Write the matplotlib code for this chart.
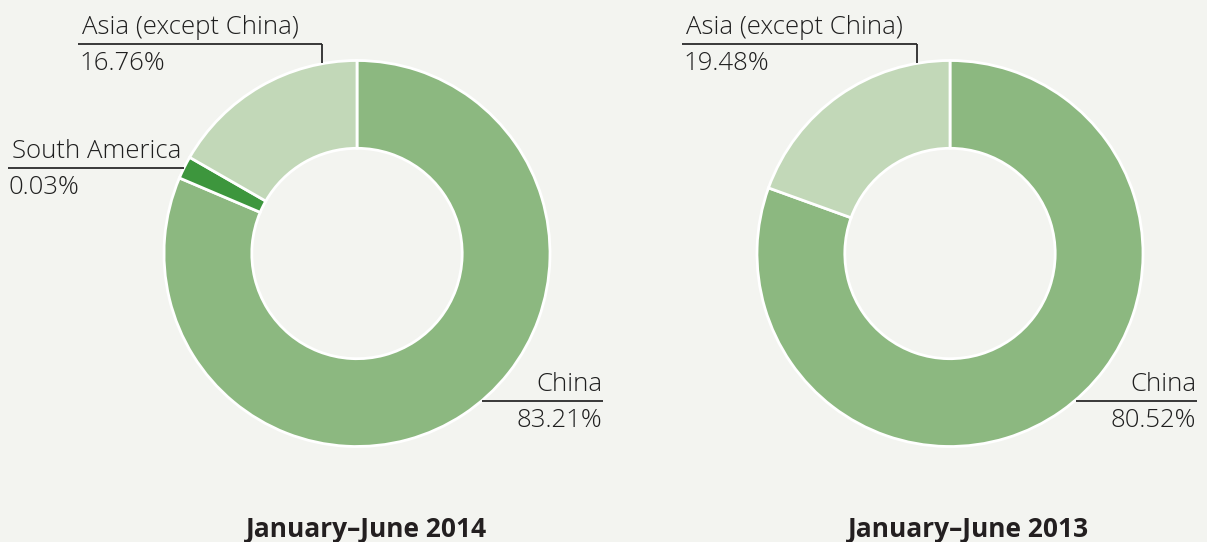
import matplotlib.pyplot as plt

# ---- data ----
regions_2014 = ["China", "South America", "Asia (except China)"]
shares_2014 = [83.21, 0.03, 16.76]          # labelled shares (%)
drawn_2014 = [81.4, 1.9, 16.7]              # slice sizes as drawn in the picture
regions_2013 = ["China", "Asia (except China)"]
shares_2013 = [80.52, 19.48]
drawn_2013 = [80.52, 19.48]
titles = ["January\u2013June 2014", "January\u2013June 2013"]

colors = {"China": "#8cb880", "South America": "#3d963d", "Asia (except China)": "#c2d8b8"}

W, H = 1207, 542
BG = "#f3f4f0"
TXT = "#1f1f1f"

fig = plt.figure(figsize=(W / 100, H / 100), dpi=100, facecolor=BG)
ax = fig.add_axes([0, 0, 1, 1])
ax.set_facecolor(BG)

def Y(y):
    return H - y

R = 193
WIDTH = 0.455
centers = [(357, Y(253.5)), (950, Y(253.5))]

for (cx, cy), regs, vals in zip(centers, [regions_2014, regions_2013], [drawn_2014, drawn_2013]):
    ax.pie(vals, colors=[colors[r] for r in regs], startangle=90, counterclock=False,
           center=(cx, cy), radius=R,
           wedgeprops=dict(width=R * WIDTH, edgecolor="white", linewidth=2))

ax.set_xlim(0, W)
ax.set_ylim(0, H)
ax.set_aspect("equal", adjustable="box")
ax.axis("off")

FONT = "Open Sans"
FS = 18.5
lkw = dict(color="#2a2a2a", lw=1.3, solid_capstyle="butt")

def label(name, pct, x0, x1, yline, align, vx=None, vy=None):
    ax.plot([x0, x1], [Y(yline), Y(yline)], **lkw)
    if vx is not None:
        ax.plot([vx, vx], [Y(yline), Y(vy)], **lkw)
    if align == "left":
        tx = x0 + 4
    else:
        tx = x1 - 1
    ax.text(tx, Y(yline - 10), name, ha=align, va="baseline", fontsize=FS,
            family=FONT, fontweight="light", color=TXT)
    ax.text(tx - (3 if align == "left" else 0), Y(yline + 26), pct, ha=align, va="baseline",
            fontsize=FS, family=FONT, fontweight="light", color=TXT)

fmt = lambda v: f"{v:.2f}%"

# 2014 labels
label(regions_2014[2], fmt(shares_2014[2]), 78, 322, 44, "left", vx=322, vy=63)
label(regions_2014[1], fmt(shares_2014[1]), 8, 184, 168, "left")
label(regions_2014[0], fmt(shares_2014[0]), 482, 603, 401, "right")

# 2013 labels
label(regions_2013[1], fmt(shares_2013[1]), 682, 917, 44, "left", vx=917, vy=63)
label(regions_2013[0], fmt(shares_2013[0]), 1076, 1197, 401, "right")

for tx, t in zip([366, 968], titles):
    ax.text(tx, Y(537), t, ha="center", va="baseline", fontsize=19, family=FONT,
            fontweight="bold", color="#231f20")

fig.savefig("out.png", dpi=100, facecolor=BG)
